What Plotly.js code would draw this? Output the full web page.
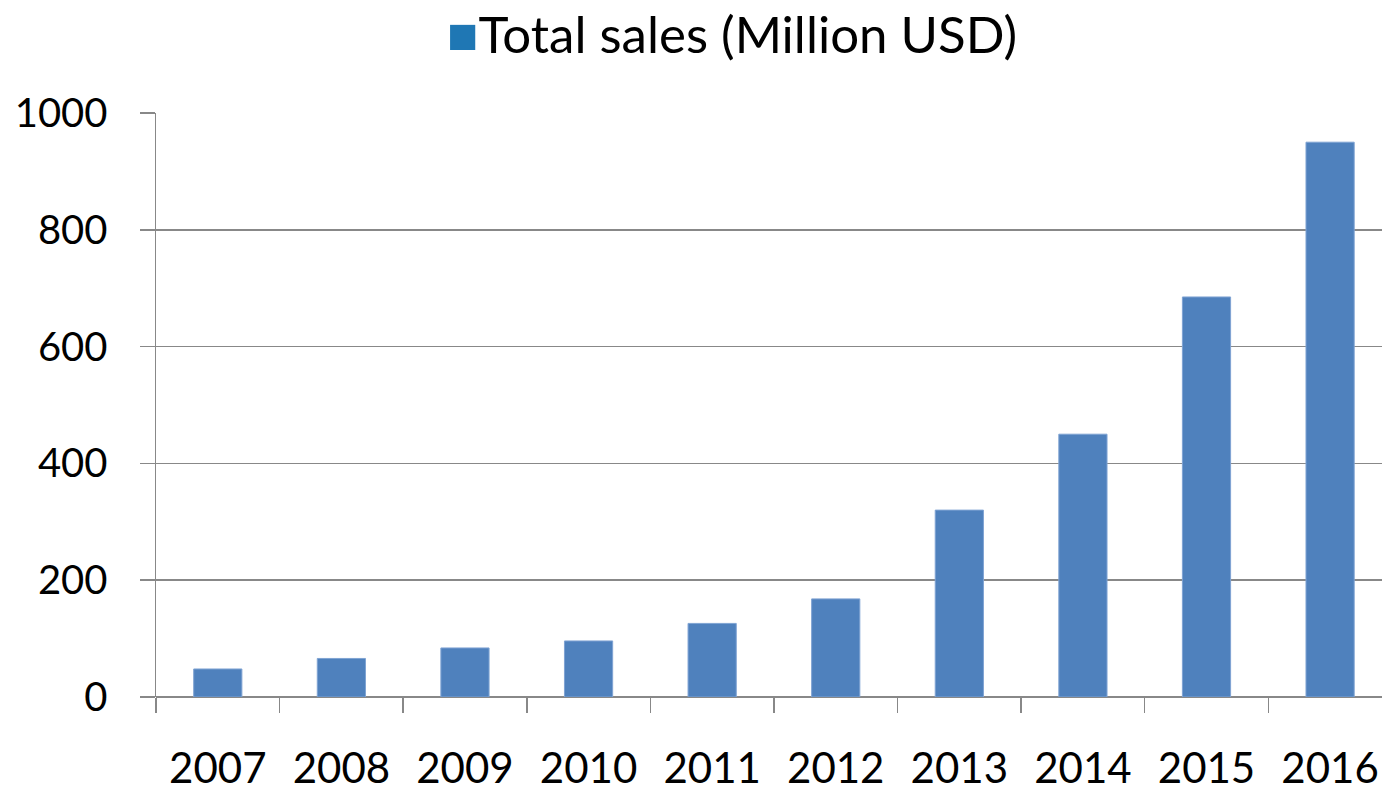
<!DOCTYPE html>
<html><head><meta charset="utf-8">
<script src="https://cdn.plot.ly/plotly-3.0.1.min.js"></script>
<style>html,body{margin:0;padding:0;background:#fff}#chart{width:1382px;height:793px}</style>
</head><body><div id="chart"></div>
<script>
const years = ['2007','2008','2009','2010','2011','2012','2013','2014','2015','2016'];
const totalSales = [48, 66, 84, 96, 126, 168, 320, 450, 685, 950];
const seriesName = 'Total sales (Million USD)';
const yTicks = [0, 200, 400, 600, 800, 1000];

const FONT = 'Lato, "Open Sans", sans-serif';
const trace = {
  type: 'bar', x: years, y: totalSales, name: seriesName,
  marker: {color: '#4F81BD', line: {color: '#7FA3D3', width: 1}},
  showlegend: false, hoverinfo: 'x+y'
};
const layout = {
  width: 1382, height: 793,
  margin: {l: 156, r: 0, t: 113, b: 96},
  paper_bgcolor: '#fff', plot_bgcolor: '#fff',
  bargap: 0.61,
  font: {family: FONT, color: '#000', size: 40},
  xaxis: {
    type: 'category', range: [-0.5, 9.42],
    showgrid: false, zeroline: false,
    showline: false,
    ticks: 'outside', ticklen: 15, tickcolor: '#888', tickwidth: 1.5,
    tickson: 'boundaries',
    tickfont: {family: FONT, size: 42, color: '#000'},
    ticklabelstandoff: 43
  },
  yaxis: {
    range: [0, 1000], tickvals: yTicks, ticktext: yTicks.map(String),
    showgrid: true, gridcolor: '#888', gridwidth: 1.5,
    zeroline: true, zerolinecolor: '#888', zerolinewidth: 1.5,
    showline: true, linecolor: '#888', linewidth: 1.5,
    ticks: 'outside', ticklen: 15, tickcolor: '#888', tickwidth: 1.5,
    tickfont: {family: FONT, size: 40, color: '#000'},
    ticklabelstandoff: 24
  },
  annotations: [{
    xref: 'paper', yref: 'paper', x: 0.47, y: 1, yshift: 80, xanchor: 'center', yanchor: 'middle',
    showarrow: false,
    text: '<span style="color:#1F77B4;font-size:52px">■</span>' + seriesName,
    font: {family: FONT, size: 51, color: '#000'}
  }]
};
Plotly.newPlot('chart', [trace], layout, {displayModeBar: false, staticPlot: true});
</script></body></html>
